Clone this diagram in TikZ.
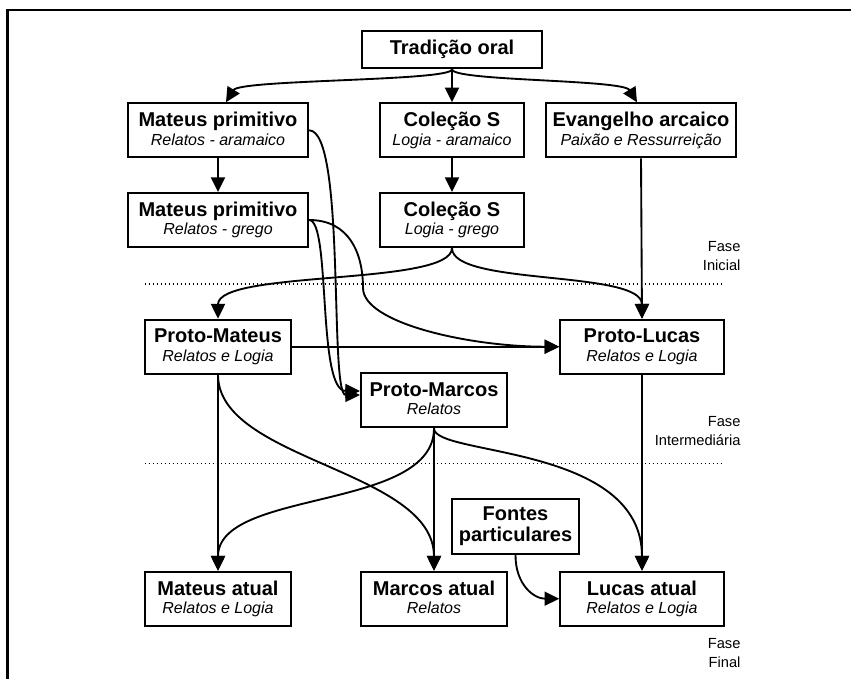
\documentclass[tikz,border=0pt]{standalone}
\usepackage{fontspec}
\setmainfont{Liberation Sans}
\usetikzlibrary{arrows.meta}
\newcommand{\bxt}[1]{{\fontsize{15}{13.7}\selectfont\bfseries #1}}
\newcommand{\bxs}[1]{{\fontsize{12}{13.7}\selectfont\itshape #1\vphantom{g}}}
\begin{document}
\begin{tikzpicture}[x=0.75pt,y=-0.75pt,
  box/.style={draw, line width=1.6pt, inner sep=0pt, align=center,
    minimum height=40.5pt, font=\fontsize{12}{13.7}\selectfont},
  conn/.style={line width=1.4pt, -{Triangle[length=11pt,width=10.5pt]}},
  phase/.style={align=right, anchor=east, inner sep=0pt,
    font=\fontsize{11}{14.3}\selectfont},
  sep/.style={line width=1pt, dash pattern=on 1pt off 2pt}]
\useasboundingbox (0,0) rectangle (851,679);
\draw[line width=2pt] (851,10) -- (7.3,10) -- (7.3,679);

% nodes
\node[box, minimum width=135pt, minimum height=27.75pt] (trad) at (452,49.7) {\bxt{Tradição oral}};
\node[box, minimum width=135pt] (mp1) at (218,130.3) {\bxt{Mateus primitivo}\\\bxs{Relatos - aramaico}};
\node[box, minimum width=108.5pt] (cs1) at (452,130.3) {\bxt{Coleção S}\\\bxs{Logia - aramaico}};
\node[box, minimum width=142.5pt] (ev) at (641,130.3) {\bxt{Evangelho arcaico}\\\bxs{Paixão e Ressurreição}};
\node[box, minimum width=135pt] (mp2) at (218,220) {\bxt{Mateus primitivo}\\\bxs{Relatos - grego}};
\node[box, minimum width=108.5pt] (cs2) at (452,220) {\bxt{Coleção S}\\\bxs{Logia - grego}};
\node[box, minimum width=109.5pt] (pmat) at (218,346.7) {\bxt{Proto-Mateus}\\\bxs{Relatos e Logia}};
\node[box, minimum width=122.6pt] (pluc) at (642,346.7) {\bxt{Proto-Lucas}\\\bxs{Relatos e Logia}};
\node[box, minimum width=109.5pt] (pmar) at (434,400.3) {\bxt{Proto-Marcos}\\\bxs{Relatos}};
\node[box, minimum width=95.25pt, minimum height=41.25pt] (fontes) at (515.5,526.5) {\bxt{Fontes}\\[1.8pt]\bxt{particulares}};
\node[box, minimum width=109.5pt] (mat) at (218,598.7) {\bxt{Mateus atual}\\\bxs{Relatos e Logia}};
\node[box, minimum width=109.5pt] (mar) at (434,598.7) {\bxt{Marcos atual}\\\bxs{Relatos}};
\node[box, minimum width=122.6pt] (luc) at (642,598.7) {\bxt{Lucas atual}\\\bxs{Relatos e Logia}};

% phase separators and labels
\draw[sep] (144.5,284) -- (724,284);
\draw[sep] (144.5,463.3) -- (724,463.3);
\node[phase] (f1) at (740.7,256) {Fase\\Inicial};
\node[phase] (f2) at (740.7,431) {Fase\\Intermediária};
\node[phase] (f3) at (740.7,653) {Fase\\Final};

% connectors
\draw[conn] (trad.south) .. controls +(0,12) and +(14,-23) .. ([xshift=6pt]mp1.north);
\draw[conn] (trad.south) -- (cs1.north);
\draw[conn] (trad.south) .. controls +(0,12) and +(-14,-23) .. ([xshift=-3pt]ev.north);
\draw[conn] (mp1.south) -- (mp2.north);
\draw[conn] (cs1.south) -- (cs2.north);
\draw[conn] (ev.south) -- (pluc.north);
\draw[conn] (mp1.east) .. controls +(37,0) and +(-31,0) .. ([yshift=4pt]pmar.west);
\draw[conn] (mp2.east) .. controls +(22,0) and +(-43,0) .. ([yshift=7pt]pmar.west);
\coordinate (w1) at (363,288);
\draw[conn] (mp2.east) .. controls +(40,0) and +(0,-35) .. (w1) .. controls +(0,35) and +(-90,0) .. (pluc.west);
\draw[conn] (cs2.south) .. controls +(0,38) and +(0,-49) .. (pmat.north);
\draw[conn] (cs2.south) .. controls +(0,38) and +(0,-49) .. (pluc.north);
\draw[conn] (pmat.east) -- (pluc.west);
\draw[conn] (pmat.south) -- (mat.north);
\draw[conn] (pmat.south) .. controls +(0,86) and +(0,-101) .. (mar.north);
\draw[conn] (pmar.south) .. controls +(0,83) and +(0,-82) .. (mat.north);
\draw[conn] (pmar.south) -- (mar.north);
\draw[conn] (pmar.south) .. controls +(0,28) and +(0,-127) .. (luc.north);
\draw[conn] (pluc.south) -- (luc.north);
\draw[conn] (fontes.south) .. controls +(0,30) and +(-25,0) .. (luc.west);
\end{tikzpicture}
\end{document}
